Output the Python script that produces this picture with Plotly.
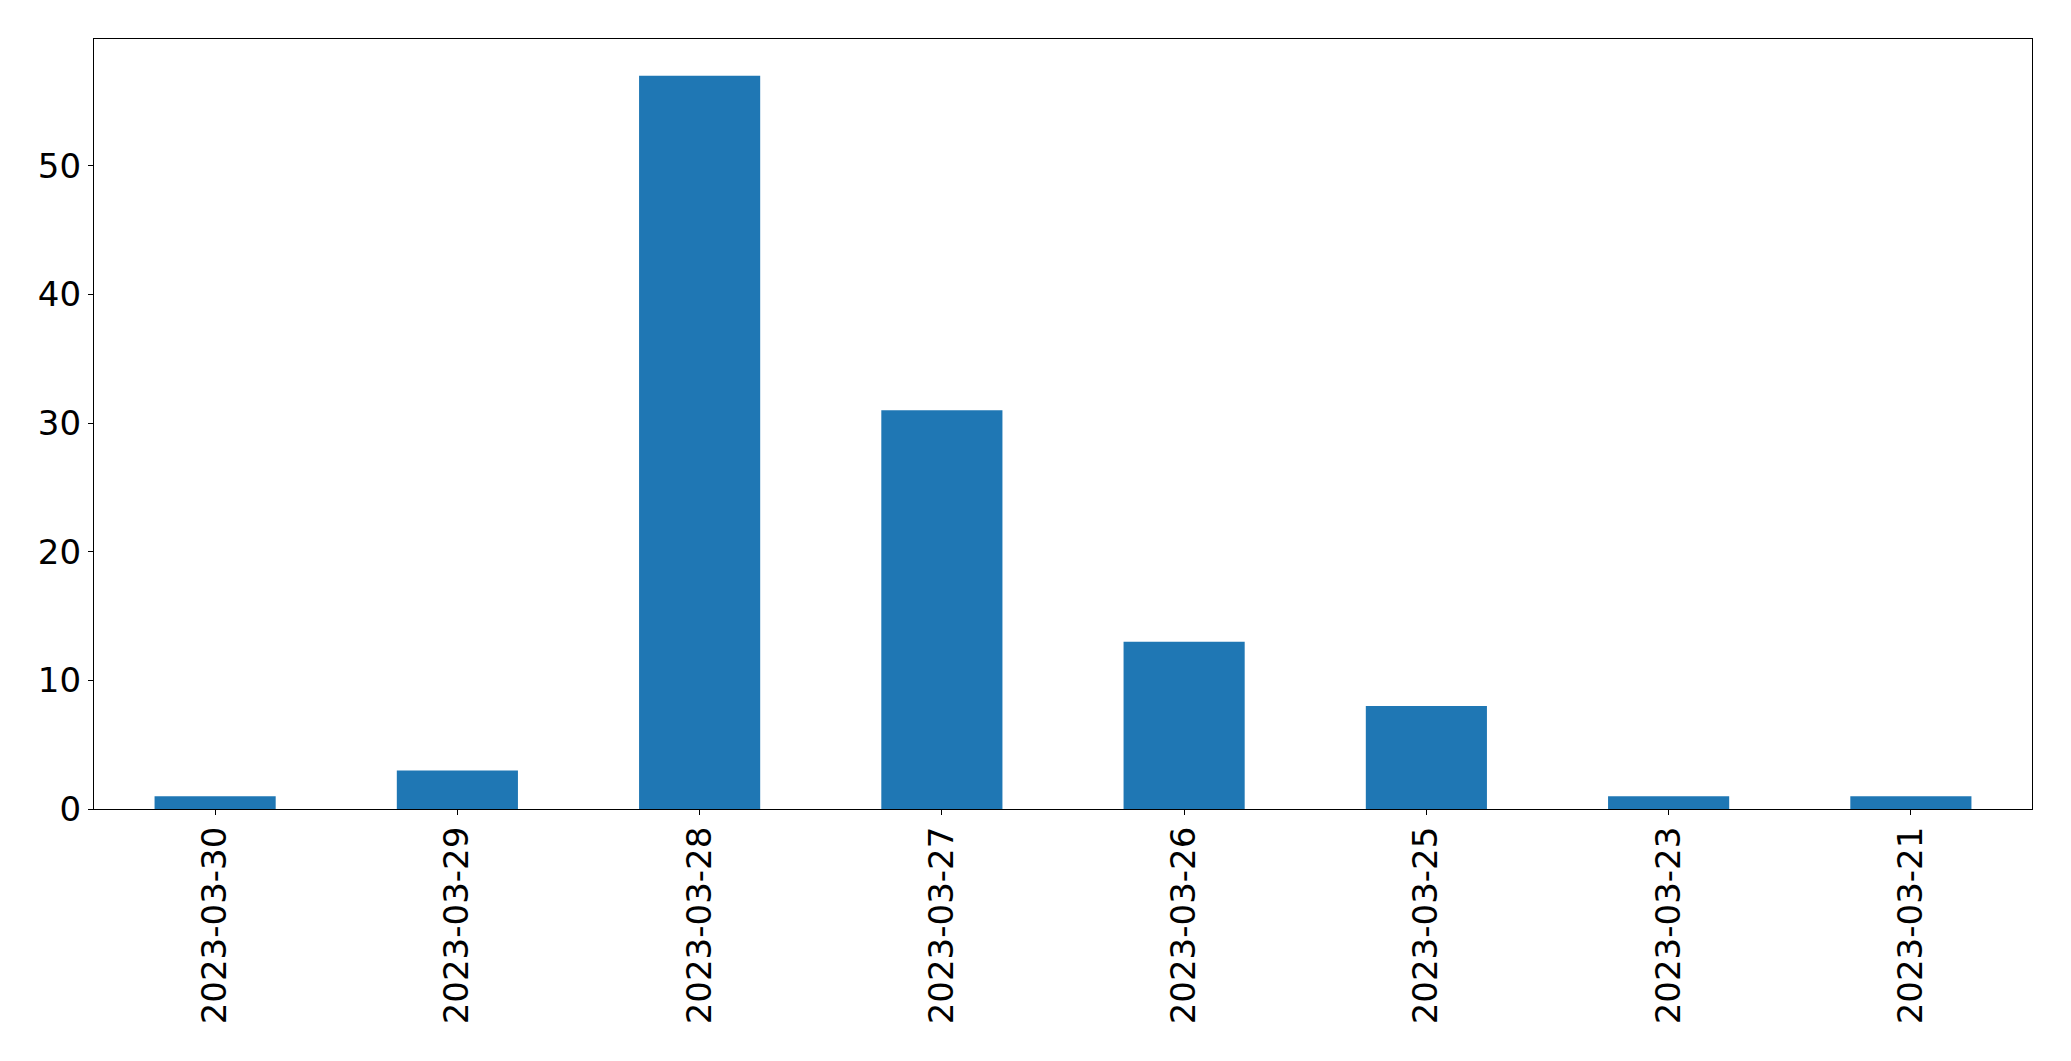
import plotly.graph_objects as go

dates = ["2023-03-30", "2023-03-29", "2023-03-28", "2023-03-27",
         "2023-03-26", "2023-03-25", "2023-03-23", "2023-03-21"]
counts = [1, 3, 57, 31, 13, 8, 1, 1]

fig = go.Figure(go.Bar(x=dates, y=counts, width=0.5, marker_color="#1f77b4",
                       marker_line_width=0))

font = dict(family="DejaVu Sans", size=34, color="black")
fig.update_layout(
    width=2071, height=1061,
    margin=dict(l=86, r=47, t=31, b=260),
    paper_bgcolor="white", plot_bgcolor="white",
    showlegend=False,
    font=font,
)
fig.update_xaxes(type="category", range=[-0.5, 7.5], showline=True, mirror=True,
                 linecolor="black", linewidth=1.2, ticks="outside", ticklen=5,
                 tickcolor="black", tickangle=-90, tickfont=font, showgrid=False,
                 zeroline=False, automargin=False, ticklabelstandoff=-2)
fig.update_yaxes(range=[0, 59.85], tick0=0, dtick=10, showline=True, mirror=True,
                 linecolor="black", linewidth=1.2, ticks="outside", ticklen=5,
                 tickcolor="black", tickfont=font, showgrid=False, zeroline=False,
                 automargin=False)

fig.write_html("out.html")
